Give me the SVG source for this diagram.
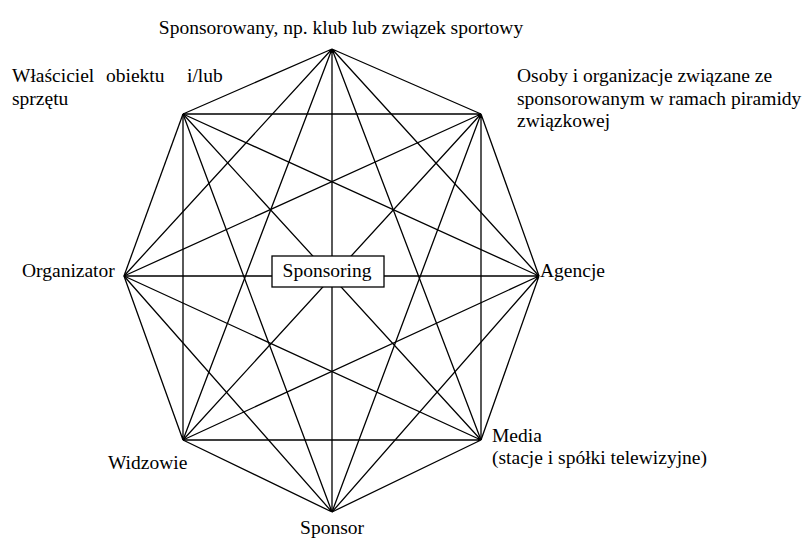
<svg xmlns="http://www.w3.org/2000/svg" width="810" height="539" viewBox="0 0 810 539">
<style>
.e{stroke:#000;stroke-width:1.3;fill:none}
text{font-family:"Liberation Serif","Times New Roman",serif;font-size:19.5px;fill:#000}
.box{fill:#fff;stroke:#000;stroke-width:1.3}
</style>
<rect width="810" height="539" fill="#fff"/>
<g id="connectors" class="e">
<path d="M332,49L481,114M332,49L539,276M332,49L481,440M332,49L332,512M332,49L183,440M332,49L124,276M332,49L183,114"/>
<path d="M481,114L539,276M481,114L481,440M481,114L332,512M481,114L183,440M481,114L124,276M481,114L183,114"/>
<path d="M539,276L481,440M539,276L332,512M539,276L183,440M539,276L124,276M539,276L183,114"/>
<path d="M481,440L332,512M481,440L183,440M481,440L124,276M481,440L183,114"/>
<path d="M332,512L183,440M332,512L124,276M332,512L183,114"/>
<path d="M183,440L124,276M183,440L183,114"/>
<path d="M124,276L183,114"/>
</g>
<g id="center"><rect class="box" x="272" y="256" width="112" height="31"/><text x="327" y="277" text-anchor="middle">Sponsoring</text></g>
<g id="sponsorowany"><text x="341" y="34" text-anchor="middle">Sponsorowany, np. klub lub związek sportowy</text></g>
<g id="wlasciciel"><text x="12" y="82">Właściciel</text><text x="106" y="82">obiektu</text><text x="187" y="82">i/lub</text><text x="12" y="105">sprzętu</text></g>
<g id="osoby"><text x="517" y="82">Osoby i organizacje związane ze</text><text x="517" y="105">sponsorowanym w ramach piramidy</text><text x="517" y="127">związkowej</text></g>
<g id="organizator"><text x="22" y="277">Organizator</text></g>
<g id="agencje"><text x="540" y="277">Agencje</text></g>
<g id="media"><text x="492" y="442">Media</text><text x="492" y="464">(stacje i spółki telewizyjne)</text></g>
<g id="widzowie"><text x="108" y="469">Widzowie</text></g>
<g id="sponsor"><text x="332" y="534" text-anchor="middle">Sponsor</text></g>
</svg>
